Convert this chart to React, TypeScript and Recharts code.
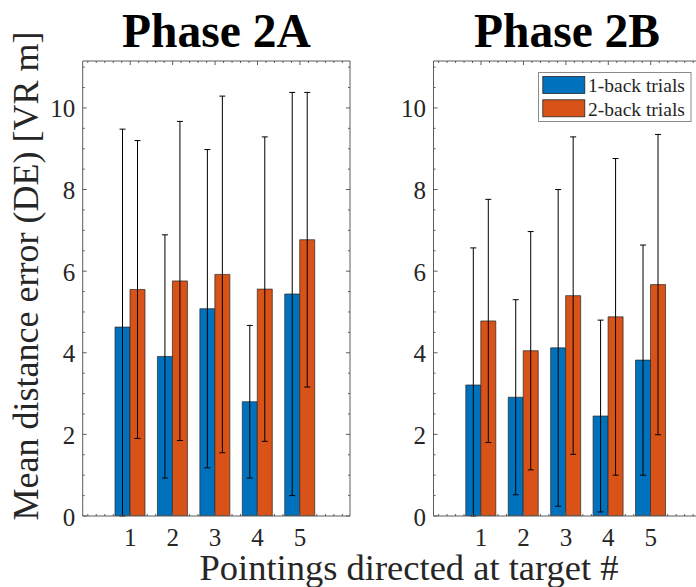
import React from 'react';
import { BarChart, Bar, XAxis, YAxis, ErrorBar, Legend } from 'recharts';

// ---------- data ----------
const categories = [1, 2, 3, 4, 5];
const seriesNames = ['1-back trials', '2-back trials'];
const panelTitles = ['Phase 2A', 'Phase 2B'];

const oneBackMean2A = [4.63, 3.91, 5.08, 2.8, 5.44];
const oneBackSD2A = [4.85, 2.98, 3.9, 1.87, 4.94];
const twoBackMean2A = [5.55, 5.76, 5.92, 5.56, 6.77];
const twoBackSD2A = [3.65, 3.91, 4.37, 3.73, 3.61];

const oneBackMean2B = [3.21, 2.91, 4.12, 2.45, 3.82];
const oneBackSD2B = [3.36, 2.39, 3.88, 2.35, 2.82];
const twoBackMean2B = [4.78, 4.05, 5.4, 4.88, 5.67];
const twoBackSD2B = [2.98, 2.92, 3.89, 3.88, 3.68];

const xLabelTicks = [1, 2, 3, 4, 5];
const yLabelTicks = [0, 2, 4, 6, 8, 10];
const xMinorTicks = Array.from({ length: 31 }, (_, i) => Math.round(i * 2) / 10);
const yMinorTicks = Array.from({ length: 23 }, (_, i) => i / 2);

const xDomain: [number, number] = [-0.12, 6.18];
const yDomain: [number, number] = [0, 11.15];

const xAxisTitle = 'Pointings directed at target #';
const yAxisTitle = 'Mean distance error (DE) [VR m]';

// ---------- style ----------
const BLUE = '#0072BD';
const ORANGE = '#D95319';
const AXIS = '#5c5c5c';
const TEXT = '#262626';
const FONT = '"Liberation Serif", "Times New Roman", serif';

const buildRows = (m1: number[], s1: number[], m2: number[], s2: number[]) =>
  categories.map((c, i) => ({ x: c, one: m1[i], oneErr: s1[i], two: m2[i], twoErr: s2[i] }));

const rows2A = buildRows(oneBackMean2A, oneBackSD2A, twoBackMean2A, twoBackSD2A);
const rows2B = buildRows(oneBackMean2B, oneBackSD2B, twoBackMean2B, twoBackSD2B);

// error bars are cut at the x axis (the plot's lower limit is 0)
const errOne = (d: any) => [Math.min(d.oneErr, d.one), d.oneErr];
const errTwo = (d: any) => [Math.min(d.twoErr, d.two), d.twoErr];

const near = (a: number, b: number) => Math.abs(a - b) < 1e-6;

const makeTick =
  (side: 'bottom' | 'top' | 'left' | 'right', majors: number[], labeled: boolean) =>
  (props: any) => {
    const { x, y, payload } = props;
    const v = payload.value as number;
    const isMajor = majors.some((m) => near(m, v));
    const len = isMajor ? 4 : 2;
    let x2 = x;
    let y2 = y;
    if (side === 'bottom') y2 = y - len;
    if (side === 'top') y2 = y + len;
    if (side === 'left') x2 = x + len;
    if (side === 'right') x2 = x - len;
    let label = null;
    if (labeled && isMajor) {
      if (side === 'bottom')
        label = (
          <text
            x={x}
            y={y + 29.5}
            textAnchor="middle"
            fontSize={25}
            fontFamily={FONT}
            style={{ fontFamily: FONT }}
            fill={TEXT}
          >
            {v}
          </text>
        );
      if (side === 'left')
        label = (
          <text
            x={x - 7.5}
            y={y + 9.5}
            textAnchor="end"
            fontSize={25}
            fontFamily={FONT}
            style={{ fontFamily: FONT }}
            fill={TEXT}
          >
            {v}
          </text>
        );
    }
    return (
      <g>
        <line x1={x} y1={y} x2={x2} y2={y2} stroke={AXIS} strokeWidth={1} />
        {label}
      </g>
    );
  };

const renderLegend = (props: any) => {
  const payload = (props && props.payload) || [];
  const items = payload.length
    ? payload.map((p: any) => ({ name: p.value, color: p.color }))
    : [
        { name: seriesNames[0], color: BLUE },
        { name: seriesNames[1], color: ORANGE },
      ];
  return (
    <svg width={154} height={50} style={{ display: 'block' }}>
      <rect x={0.5} y={0.5} width={152.5} height={49} fill="#fff" stroke="#8a8a8a" strokeWidth={1} />
      {items.map((it: any, i: number) => (
        <g key={i}>
          <rect x={4.8} y={4.5 + i * 23.3} width={42} height={17} fill={it.color} stroke="#262626" strokeWidth={0.8} />
          <text x={50} y={20.3 + i * 23.3} fontSize={19.5} fontFamily={FONT} style={{ fontFamily: FONT }} fill={TEXT}>
            {it.name}
          </text>
        </g>
      ))}
    </svg>
  );
};

type PanelProps = {
  rows: any[];
  width: number;
  plotLeft: number;
  plotRight: number;
  showLegend: boolean;
};

const PLOT_TOP = 61;
const PLOT_BOTTOM = 516;
const CHART_H = 587;

function Panel({ rows, width, plotLeft, plotRight, showLegend }: PanelProps) {
  // each of the 4 framing axes takes 1px, so margins are reduced by 1
  const margin = {
    top: PLOT_TOP - 1,
    bottom: CHART_H - PLOT_BOTTOM - 1,
    left: plotLeft - 1,
    right: width - plotRight - 1,
  };
  return (
    <BarChart width={width} height={CHART_H} data={rows} margin={margin} barGap={0} barSize={15}>
      <XAxis
        xAxisId="bottom"
        type="number"
        dataKey="x"
        domain={xDomain}
        ticks={xMinorTicks}
        interval={0}
        allowDataOverflow
        height={1}
        tickSize={0}
        tickMargin={0}
        tickLine={false}
        axisLine={{ stroke: AXIS, strokeWidth: 1 }}
        tick={makeTick('bottom', xLabelTicks, true)}
      />
      <XAxis
        xAxisId="top"
        orientation="top"
        type="number"
        dataKey="x"
        domain={xDomain}
        ticks={xMinorTicks}
        interval={0}
        allowDataOverflow
        height={1}
        tickSize={0}
        tickMargin={0}
        tickLine={false}
        axisLine={{ stroke: AXIS, strokeWidth: 1 }}
        tick={makeTick('top', xLabelTicks, false)}
      />
      <XAxis
        xAxisId="bar"
        type="number"
        dataKey="x"
        domain={xDomain}
        ticks={categories}
        allowDataOverflow
        height={0}
        hide
      />
      <YAxis
        yAxisId="left"
        type="number"
        domain={yDomain}
        ticks={yMinorTicks}
        interval={0}
        allowDataOverflow
        width={1}
        tickSize={0}
        tickMargin={0}
        tickLine={false}
        axisLine={{ stroke: AXIS, strokeWidth: 1 }}
        tick={makeTick('left', yLabelTicks, true)}
      />
      <YAxis
        yAxisId="right"
        orientation="right"
        type="number"
        domain={yDomain}
        ticks={yMinorTicks}
        interval={0}
        allowDataOverflow
        width={1}
        tickSize={0}
        tickMargin={0}
        tickLine={false}
        axisLine={{ stroke: AXIS, strokeWidth: 1 }}
        tick={makeTick('right', yLabelTicks, false)}
      />
      {showLegend && (
        <Legend
          layout="vertical"
          align="center"
          verticalAlign="middle"
          content={renderLegend}
          wrapperStyle={{ left: 177.7, top: 71.7, width: 154, height: 50 }}
        />
      )}
      <Bar
        xAxisId="bar"
        yAxisId="left"
        dataKey="one"
        name={seriesNames[0]}
        fill={BLUE}
        stroke="#262626"
        strokeWidth={0.7}
        isAnimationActive={false}
      >
        <ErrorBar dataKey={errOne} width={3} stroke="#000" strokeWidth={1} direction="y" />
      </Bar>
      <Bar
        xAxisId="bar"
        yAxisId="left"
        dataKey="two"
        name={seriesNames[1]}
        fill={ORANGE}
        stroke="#262626"
        strokeWidth={0.7}
        isAnimationActive={false}
      >
        <ErrorBar dataKey={errTwo} width={3} stroke="#000" strokeWidth={1} direction="y" />
      </Bar>
    </BarChart>
  );
}

export default function App() {
  return (
    <div
      style={{
        position: 'absolute',
        left: 0,
        top: 0,
        width: 696,
        height: 587,
        overflow: 'hidden',
        background: '#fff',
      }}
    >
      <div style={{ position: 'absolute', left: 0, top: 0 }}>
        <Panel rows={rows2A} width={360} plotLeft={82.7} plotRight={350} showLegend={false} />
      </div>
      <div style={{ position: 'absolute', left: 360, top: 0 }}>
        <Panel rows={rows2B} width={345} plotLeft={73.5} plotRight={340.8} showLegend />
      </div>
      <svg width={696} height={587} style={{ position: 'absolute', left: 0, top: 0, pointerEvents: 'none' }}>
        <text x={216.4} y={47} textAnchor="middle" fontSize={47.5} fontWeight="bold" fontFamily={FONT} fill="#000">
          {panelTitles[0]}
        </text>
        <text x={567} y={47} textAnchor="middle" fontSize={47.5} fontWeight="bold" fontFamily={FONT} fill="#000">
          {panelTitles[1]}
        </text>
        <text
          x={0}
          y={0}
          transform="translate(38,276) rotate(-90)"
          textAnchor="middle"
          fontSize={36}
          fontFamily={FONT}
          fill={TEXT}
        >
          {yAxisTitle}
        </text>
        <text x={409} y={579.5} textAnchor="middle" fontSize={36.5} fontFamily={FONT} fill={TEXT}>
          {xAxisTitle}
        </text>
      </svg>
    </div>
  );
}
